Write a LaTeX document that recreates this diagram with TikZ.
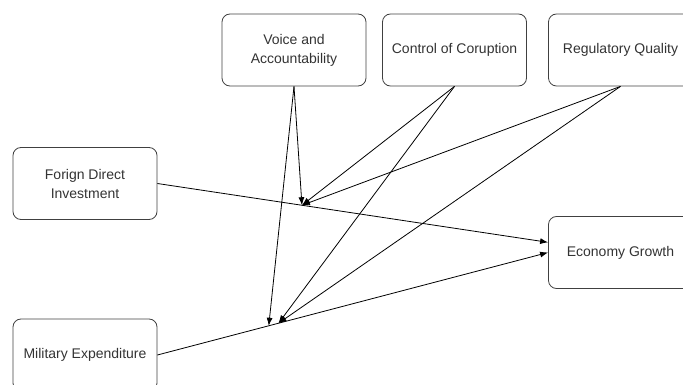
\documentclass[tikz,border=0pt]{standalone}
\usepackage{fontspec}
\setmainfont{Liberation Sans}
\usetikzlibrary{arrows.meta,calc}

\begin{document}
\begin{tikzpicture}[x=1pt,y=-1pt,>={Latex[length=8pt,width=6pt]},line width=0.8pt,
  var/.style={draw=black!75,rounded corners=8pt,minimum width=144pt,minimum height=72pt,
    align=center,font=\fontsize{14}{19}\selectfont,text=black!80}]
  \useasboundingbox (0,0) rectangle (683,385);
  \node[var] (va) at (294,50) {Voice and\\Accountability};
  \node[var] (cc) at (454.5,50) {Control of Coruption};
  \node[var] (rq) at (620.5,50) {Regulatory Quality};
  \node[var] (fdi) at (85,183.5) {Forign Direct\\Investment};
  \node[var] (me) at (85,355) {Military Expenditure};
  \node[var] (eg) at (620.5,252.5) {Economy Growth};
  \coordinate (m1) at ($(fdi.east)!0.37!(eg.172)$);
  \coordinate (m2) at ($(me.east)!0.285!(eg.west)$);
  \coordinate (m3) at ($(me.east)!0.31!(eg.west)$);
  \draw[->] (fdi.east) -- (eg.172);
  \draw[->] (me.east) -- (eg.west);
  \draw[->] (va.south) -- (m1);
  \draw[->] (va.south) -- (m2);
  \draw[->] (cc.south) -- (m1);
  \draw[->] (cc.south) -- (m3);
  \draw[->] (rq.south) -- (m1);
  \draw[->] (rq.south) -- (m3);
\end{tikzpicture}
\end{document}
